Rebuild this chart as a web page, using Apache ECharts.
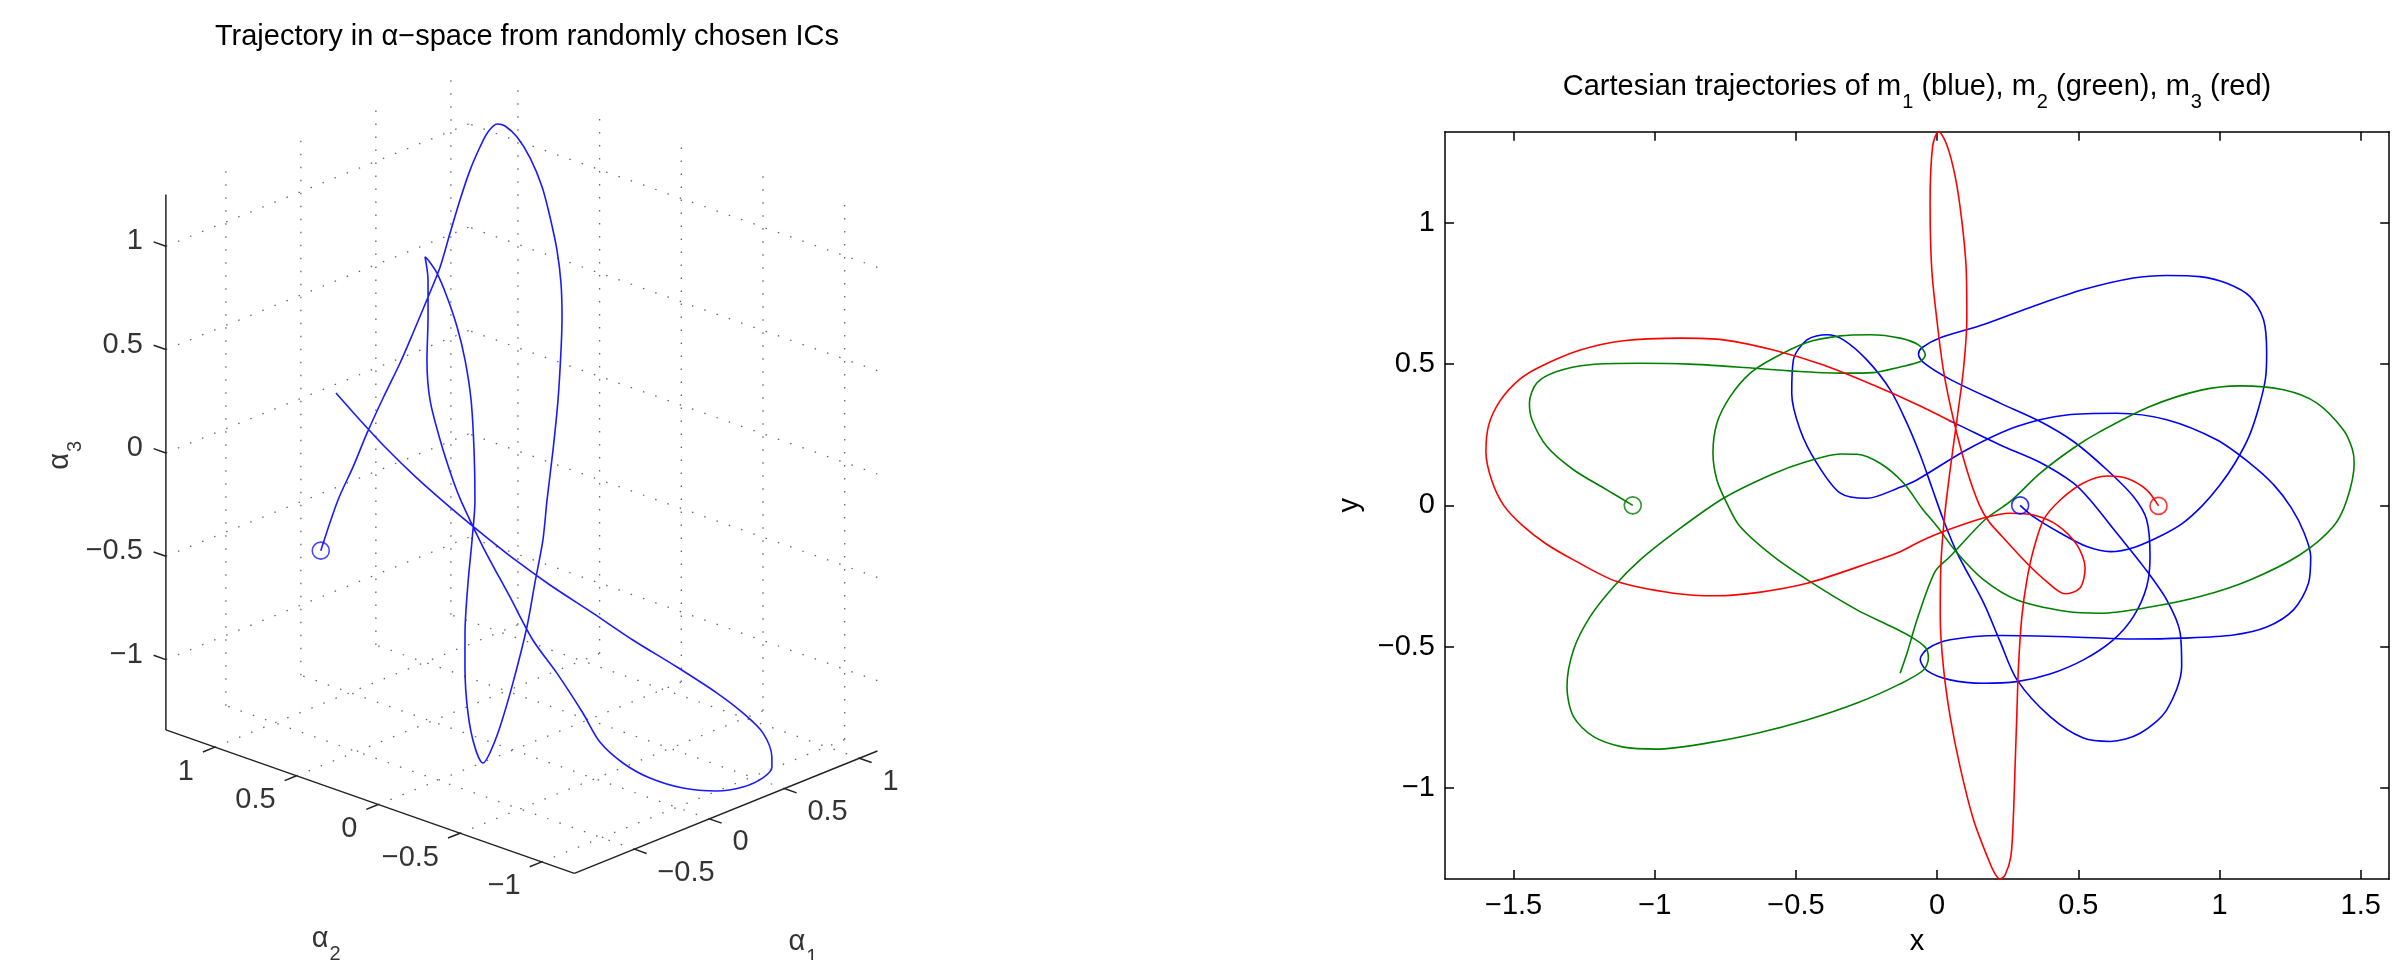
<!DOCTYPE html>
<html><head><meta charset="utf-8">
<script src="https://cdn.jsdelivr.net/npm/echarts@6/dist/echarts.min.js"></script>
<style>html,body{margin:0;padding:0;background:#fff;}#c{width:2393px;height:960px;}</style>
</head><body><div id="c"></div>
<script>
// ---------------- Right panel: Cartesian trajectories (x, y) ----------------
const xTicks = [-1.5, -1, -0.5, 0, 0.5, 1, 1.5];
const yTicks = [-1, -0.5, 0, 0.5, 1];
const xRange = [-1.743, 1.601];
const yRange = [-1.323, 1.323];

const m1 = [[0.294,0.0],[0.341,-0.040],[0.436,-0.098],[0.530,-0.146],[0.613,-0.164],[0.700,-0.148],[0.800,-0.104],[0.870,-0.063],[0.940,0.000],[1.000,0.070],[1.055,0.150],[1.105,0.245],[1.140,0.350],[1.163,0.450],[1.167,0.539],[1.156,0.657],[1.108,0.739],[1.026,0.786],[0.931,0.810],[0.813,0.814],[0.695,0.805],[0.518,0.764],[0.341,0.705],[0.165,0.640],[0.011,0.593],[-0.054,0.558],[-0.066,0.535],[-0.048,0.505],[0.046,0.446],[0.223,0.362],[0.365,0.297],[0.483,0.226],[0.601,0.126],[0.695,0.031],[0.742,-0.051],[0.754,-0.181],[0.742,-0.288],[0.695,-0.394],[0.624,-0.476],[0.518,-0.547],[0.400,-0.597],[0.282,-0.624],[0.164,-0.630],[0.046,-0.618],[-0.036,-0.585],[-0.060,-0.545],[-0.031,-0.506],[0.046,-0.476],[0.223,-0.461],[0.460,-0.465],[0.695,-0.473],[0.872,-0.470],[1.049,-0.459],[1.167,-0.431],[1.262,-0.370],[1.315,-0.276],[1.323,-0.181],[1.300,-0.098],[1.255,-0.010],[1.190,0.075],[1.108,0.149],[0.990,0.232],[0.813,0.303],[0.636,0.326],[0.459,0.320],[0.282,0.279],[0.105,0.197],[-0.072,0.090],[-0.131,0.064],[-0.249,0.025],[-0.343,0.043],[-0.426,0.149],[-0.485,0.267],[-0.515,0.397],[-0.509,0.515],[-0.461,0.586],[-0.391,0.604],[-0.332,0.586],[-0.249,0.515],[-0.166,0.409],[-0.107,0.291],[-0.060,0.178],[-0.019,0.064],[0.022,-0.051],[0.071,-0.169],[0.165,-0.346],[0.222,-0.480],[0.283,-0.618],[0.400,-0.748],[0.518,-0.824],[0.613,-0.836],[0.719,-0.807],[0.813,-0.724],[0.866,-0.571],[0.861,-0.453],[0.813,-0.335],[0.731,-0.217],[0.636,-0.098],[0.542,0.019],[0.483,0.079],[0.365,0.152],[0.223,0.214],[0.075,0.285],[0.042,0.300]];

const m2 = [[-1.078,0.0],[-1.170,0.055],[-1.288,0.126],[-1.382,0.208],[-1.435,0.303],[-1.444,0.362],[-1.418,0.433],[-1.347,0.474],[-1.229,0.498],[-1.052,0.503],[-0.875,0.500],[-0.698,0.489],[-0.521,0.476],[-0.343,0.468],[-0.226,0.470],[-0.131,0.490],[-0.060,0.509],[-0.042,0.533],[-0.066,0.568],[-0.131,0.592],[-0.237,0.604],[-0.343,0.600],[-0.461,0.577],[-0.580,0.521],[-0.662,0.468],[-0.733,0.385],[-0.780,0.291],[-0.794,0.185],[-0.780,0.090],[-0.745,0.008],[-0.698,-0.075],[-0.580,-0.181],[-0.450,-0.270],[-0.284,-0.370],[-0.160,-0.430],[-0.085,-0.470],[-0.040,-0.505],[-0.031,-0.541],[-0.048,-0.583],[-0.131,-0.632],[-0.284,-0.700],[-0.461,-0.760],[-0.638,-0.807],[-0.816,-0.842],[-0.993,-0.863],[-1.111,-0.856],[-1.217,-0.819],[-1.288,-0.748],[-1.311,-0.642],[-1.288,-0.512],[-1.229,-0.394],[-1.146,-0.288],[-1.052,-0.193],[-0.934,-0.099],[-0.757,0.025],[-0.580,0.112],[-0.461,0.155],[-0.343,0.182],[-0.284,0.181],[-0.202,0.149],[-0.119,0.079],[-0.054,-0.010],[0.000,-0.075],[0.071,-0.169],[0.165,-0.264],[0.283,-0.335],[0.460,-0.376],[0.577,-0.382],[0.754,-0.360],[0.931,-0.323],[1.108,-0.264],[1.285,-0.175],[1.403,-0.075],[1.451,0.019],[1.477,0.149],[1.470,0.200],[1.439,0.267],[1.345,0.362],[1.227,0.409],[1.073,0.423],[0.931,0.407],[0.754,0.350],[0.577,0.261],[0.483,0.203],[0.365,0.114],[0.258,0.013],[0.170,-0.050],[0.046,-0.181],[-0.007,-0.234],[-0.069,-0.398],[-0.106,-0.521],[-0.131,-0.594]];

const m3 = [[0.784,-0.002],[0.742,0.055],[0.671,0.096],[0.601,0.104],[0.518,0.079],[0.436,0.019],[0.377,-0.051],[0.341,-0.158],[0.318,-0.264],[0.300,-0.394],[0.288,-0.571],[0.282,-0.748],[0.276,-0.925],[0.270,-1.102],[0.261,-1.244],[0.240,-1.310],[0.223,-1.323],[0.205,-1.305],[0.182,-1.255],[0.129,-1.114],[0.081,-0.925],[0.046,-0.748],[0.022,-0.571],[0.011,-0.394],[0.013,-0.217],[0.025,-0.051],[0.046,0.126],[0.070,0.303],[0.093,0.480],[0.105,0.657],[0.103,0.834],[0.087,1.011],[0.064,1.164],[0.034,1.277],[0.005,1.324],[-0.016,1.271],[-0.025,1.070],[-0.019,0.834],[-0.001,0.657],[0.022,0.480],[0.058,0.303],[0.105,0.126],[0.150,0.000],[0.185,-0.060],[0.230,-0.110],[0.318,-0.205],[0.388,-0.270],[0.453,-0.313],[0.506,-0.293],[0.524,-0.222],[0.495,-0.140],[0.424,-0.069],[0.341,-0.034],[0.258,-0.028],[0.164,-0.045],[0.022,-0.093],[-0.060,-0.128],[-0.131,-0.164],[-0.226,-0.199],[-0.461,-0.276],[-0.638,-0.309],[-0.780,-0.320],[-0.934,-0.311],[-1.134,-0.270],[-1.288,-0.193],[-1.387,-0.135],[-1.470,-0.070],[-1.535,0.000],[-1.578,0.090],[-1.598,0.190],[-1.588,0.285],[-1.548,0.370],[-1.480,0.445],[-1.406,0.491],[-1.264,0.550],[-1.111,0.583],[-0.910,0.592],[-0.757,0.586],[-0.580,0.550],[-0.403,0.497],[-0.226,0.426],[-0.060,0.352],[0.052,0.296]];

// ---------------- Left panel: trajectory in alpha-space ----------------
const a1Ticks = [-0.5, 0, 0.5, 1];
const a2Ticks = [-1, -0.5, 0, 0.5, 1];
const a3Ticks = [-1, -0.5, 0, 0.5, 1];
const a1Lim = [-0.9, 1.12];
const a2Lim = [-1.2, 1.3];
const a3Lim = [-1.34, 1.25];

const alpha1 = [-0.558,-0.417,-0.314,-0.211,-0.101,0.012,0.104,0.213,0.302,0.391,0.479,0.562,0.632,0.683,0.726,0.748,0.767,0.773,0.763,0.737,0.704,0.661,0.607,0.548,0.454,0.353,0.250,0.169,0.071,-0.029,-0.168,-0.284,-0.360,-0.399,-0.398,-0.362,-0.294,-0.237,-0.143,-0.057,0.020,0.101,0.176,0.225,0.255,0.274,0.282,0.276,0.271,0.242,0.179,0.103,0.045,0.010,-0.017,-0.027,-0.034,-0.032,-0.032,-0.011,0.004,0.010,0.048,0.108,0.197,0.300,0.390,0.469,0.516,0.533,0.545,0.515,0.466,0.382,0.287,0.205,0.116,0.052,-0.009,-0.072,-0.130,-0.179,-0.212,-0.243];
const alpha2 = [0.666,0.690,0.693,0.701,0.704,0.704,0.709,0.717,0.725,0.746,0.766,0.780,0.784,0.782,0.765,0.737,0.681,0.607,0.524,0.452,0.379,0.315,0.259,0.211,0.143,0.081,0.023,-0.026,-0.067,-0.110,-0.152,-0.179,-0.187,-0.181,-0.130,-0.055,0.026,0.078,0.146,0.200,0.253,0.333,0.420,0.502,0.578,0.657,0.726,0.775,0.789,0.744,0.686,0.623,0.551,0.457,0.354,0.289,0.154,-0.009,-0.149,-0.277,-0.422,-0.521,-0.627,-0.737,-0.857,-0.970,-1.047,-1.097,-1.109,-1.093,-1.027,-0.932,-0.819,-0.651,-0.468,-0.299,-0.118,0.019,0.165,0.322,0.477,0.627,0.744,0.862];
const alpha3 = [-0.397,-0.200,-0.072,0.061,0.197,0.333,0.450,0.590,0.707,0.839,0.968,1.085,1.174,1.232,1.263,1.255,1.211,1.129,1.015,0.897,0.767,0.638,0.505,0.376,0.181,-0.015,-0.210,-0.367,-0.534,-0.706,-0.924,-1.096,-1.197,-1.236,-1.173,-1.040,-0.859,-0.726,-0.531,-0.363,-0.207,-0.011,0.185,0.342,0.471,0.589,0.683,0.735,0.747,0.656,0.512,0.344,0.187,0.030,-0.127,-0.218,-0.391,-0.588,-0.757,-0.888,-1.045,-1.160,-1.243,-1.303,-1.344,-1.357,-1.343,-1.308,-1.266,-1.227,-1.132,-1.053,-0.974,-0.870,-0.762,-0.655,-0.543,-0.451,-0.348,-0.233,-0.114,0.009,0.112,0.219];

// ---------------- helpers ----------------
const FONT = '"Liberation Sans", Arial, Helvetica, sans-serif';
const fmt = v => (v < 0 ? '\u2212' + Math.abs(v) : String(v));
// orthographic view of the 3-D axes (as in the figure), result in view units
const VIEW = { u: [0.72569, -0.79052, 0], v: [0.29318, 0.27770, 1] };
const proj = p => [VIEW.u[0]*p[0] + VIEW.u[1]*p[1] + VIEW.u[2]*p[2],
                   VIEW.v[0]*p[0] + VIEW.v[1]*p[1] + VIEW.v[2]*p[2]];

const gridStyle = { color: '#666', width: 1.3, type: [1.5, 11.5] };
const axisStyle = { color: '#222', width: 1.5, type: 'solid' };

const series = [];
function seg(p, q, style) {
  series.push({ type: 'line', xAxisIndex: 0, yAxisIndex: 0, data: [proj(p), proj(q)],
    symbol: 'none', showSymbol: false, lineStyle: style, silent: true, clip: false, z: 1, animation: false });
}
const [x0, x1] = a1Lim, [y0, y1] = a2Lim, [z0, z1] = a3Lim;
// floor grid
a1Ticks.forEach(t => seg([t, y0, z0], [t, y1, z0], gridStyle));
a2Ticks.forEach(t => seg([x0, t, z0], [x1, t, z0], gridStyle));
// back wall alpha2 = max
a1Ticks.forEach(t => seg([t, y1, z0], [t, y1, z1], gridStyle));
a3Ticks.forEach(t => seg([x0, y1, t], [x1, y1, t], gridStyle));
// back wall alpha1 = max
a2Ticks.forEach(t => seg([x1, t, z0], [x1, t, z1], gridStyle));
a3Ticks.forEach(t => seg([x1, y0, t], [x1, y1, t], gridStyle));
// axis lines
seg([x0, y1, z0], [x0, y1, z1], axisStyle);
seg([x0, y0, z0], [x0, y1, z0], axisStyle);
seg([x0, y0, z0], [x1, y0, z0], axisStyle);
// ticks
a3Ticks.forEach(t => seg([x0, y1, t], [x0, y1 + 0.075, t], axisStyle));
a2Ticks.forEach(t => seg([x0, t, z0], [x0 - 0.08, t, z0], axisStyle));
a1Ticks.forEach(t => seg([t, y0, z0], [t, y0 - 0.075, z0], axisStyle));

function labels(points, names, opt) {
  series.push({ type: 'scatter', xAxisIndex: 0, yAxisIndex: 0, symbolSize: 1, silent: true, z: 6, animation: false,
    itemStyle: { color: 'rgba(0,0,0,0)' },
    data: points.map((p, i) => ({ value: proj(p), name: names[i] })),
    label: Object.assign({ show: true, position: 'inside', formatter: '{b}', color: '#000', fontSize: 29, fontFamily: FONT }, opt) });
}
labels(a3Ticks.map(t => [x0, y1, t]), a3Ticks.map(fmt), { align: 'right', verticalAlign: 'middle', offset: [-23, -5] });
labels(a2Ticks.map(t => [x0, t, z0]), a2Ticks.map(fmt), { align: 'right', verticalAlign: 'middle', offset: [-21, 24.5] });
labels(a1Ticks.map(t => [t, y0, z0]), a1Ticks.map(fmt), { align: 'left', verticalAlign: 'middle', offset: [23, 23.5] });

const subRich = {
  a: { fontSize: 29, lineHeight: 29, verticalAlign: 'top', fontFamily: FONT, color: '#000' },
  s: { fontSize: 20, lineHeight: 20, verticalAlign: 'top', padding: [20, 0, 0, 1], fontFamily: FONT, color: '#000' }
};
labels([[(x0 + x1) / 2, y0, z0]], ['{a|\u03b1}{s|1}'], { align: 'center', verticalAlign: 'middle', offset: [77, 130], rich: subRich });
labels([[x0, (y0 + y1) / 2, z0]], ['{a|\u03b1}{s|2}'], { align: 'center', verticalAlign: 'middle', offset: [-44, 137], rich: subRich });
// rotated label: offset is expressed in the rotated frame
labels([[x0, y1, (z0 + z1) / 2]], ['{a|\u03b1}{s|3}'], { align: 'center', verticalAlign: 'middle', offset: [7, -106], rotate: 90, rich: subRich });

// 3-D trajectory
const traj = alpha1.map((a, i) => proj([a, alpha2[i], alpha3[i]]));
series.push({ type: 'line', xAxisIndex: 0, yAxisIndex: 0, data: traj, symbol: 'none', showSymbol: false,
  smooth: 0.3, lineStyle: { color: '#1a1aff', width: 1.6 }, silent: true, clip: false, z: 4, animation: false });
series.push({ type: 'scatter', xAxisIndex: 0, yAxisIndex: 0, data: [traj[0]], symbol: 'circle', symbolSize: 17,
  itemStyle: { color: 'rgba(0,0,0,0)', borderColor: '#1a1aff', borderWidth: 1.6 }, silent: true, z: 5, animation: false });

// right panel series: m1 blue, m2 green, m3 red (drawn in this order)
[[m1, '#0000ff'], [m2, '#008000'], [m3, '#ff0000']].forEach(([d, c], k) => {
  series.push({ type: 'line', xAxisIndex: 1, yAxisIndex: 1, data: d, symbol: 'none', showSymbol: false,
    smooth: 0.3, lineStyle: { color: c, width: 1.6 }, silent: true, z: 2 + k * 0.1, animation: false });
  series.push({ type: 'scatter', xAxisIndex: 1, yAxisIndex: 1, data: [d[0]], symbol: 'circle', symbolSize: 17,
    itemStyle: { color: 'rgba(0,0,0,0)', borderColor: c, borderWidth: 1.6 }, silent: true, z: 3, animation: false });
});

const axLine = { show: true, onZero: false, lineStyle: { color: '#000', width: 1.5 } };
const tickStyle = { color: '#000', width: 1.5 };
const labelStyle = { color: '#000', fontSize: 29, fontFamily: FONT };

const option = {
  animation: false,
  backgroundColor: '#fff',
  title: [
    { text: 'Trajectory in \u03b1\u2212space from randomly chosen ICs', left: 527, textAlign: 'center', top: 22, padding: 0,
      textStyle: { fontSize: 29, fontWeight: 'normal', color: '#000', fontFamily: FONT } },
    { text: '{n|Cartesian trajectories of m}{s|1}{n| (blue), m}{s|2}{n| (green), m}{s|3}{n| (red)}',
      left: 1917, textAlign: 'center', top: 72, padding: 0,
      textStyle: { fontSize: 29, fontWeight: 'normal', color: '#000', fontFamily: FONT,
        rich: { n: { fontSize: 29, lineHeight: 29, verticalAlign: 'top', fontFamily: FONT, color: '#000' },
                s: { fontSize: 20, lineHeight: 20, verticalAlign: 'top', padding: [20, 0, 0, 1], fontFamily: FONT, color: '#000' } } } }
  ],
  grid: [
    { left: 58.56, right: 1424.96, top: 18.26, bottom: 32.26, outerBoundsMode: 'none', containLabel: false },
    { left: 1445, right: 3.8, top: 131.7, bottom: 81, outerBoundsMode: 'none', containLabel: false }
  ],
  xAxis: [
    { gridIndex: 0, type: 'value', min: -2.2, max: 2.2, show: false },
    { gridIndex: 1, type: 'value', min: xRange[0], max: xRange[1], position: 'bottom',
      axisLine: axLine, splitLine: { show: false },
      axisTick: { show: true, inside: true, length: 9, customValues: xTicks, lineStyle: tickStyle },
      axisLabel: Object.assign({ show: true, customValues: xTicks, formatter: fmt, margin: 12 }, labelStyle),
      name: 'x', nameLocation: 'middle', nameGap: 48, nameMoveOverlap: false, nameTextStyle: labelStyle },
    { gridIndex: 1, type: 'value', min: xRange[0], max: xRange[1], position: 'top',
      axisLine: axLine, splitLine: { show: false },
      axisTick: { show: true, inside: true, length: 9, customValues: xTicks, lineStyle: tickStyle },
      axisLabel: { show: false, customValues: xTicks } }
  ],
  yAxis: [
    { gridIndex: 0, type: 'value', min: -2.2, max: 2.2, show: false },
    { gridIndex: 1, type: 'value', min: yRange[0], max: yRange[1], position: 'left',
      axisLine: axLine, splitLine: { show: false },
      axisTick: { show: true, inside: true, length: 9, customValues: yTicks, lineStyle: tickStyle },
      axisLabel: Object.assign({ show: true, customValues: yTicks, formatter: fmt, margin: 10 }, labelStyle),
      name: 'y', nameLocation: 'middle', nameGap: 81, nameRotate: 90, nameMoveOverlap: false, nameTextStyle: labelStyle },
    { gridIndex: 1, type: 'value', min: yRange[0], max: yRange[1], position: 'right',
      axisLine: axLine, splitLine: { show: false },
      axisTick: { show: true, inside: true, length: 9, customValues: yTicks, lineStyle: tickStyle },
      axisLabel: { show: false, customValues: yTicks } }
  ],
  series: series
};

const chart = echarts.init(document.getElementById('c'), null, { renderer: 'canvas', width: 2393, height: 960 });
chart.setOption(option);
</script></body></html>
